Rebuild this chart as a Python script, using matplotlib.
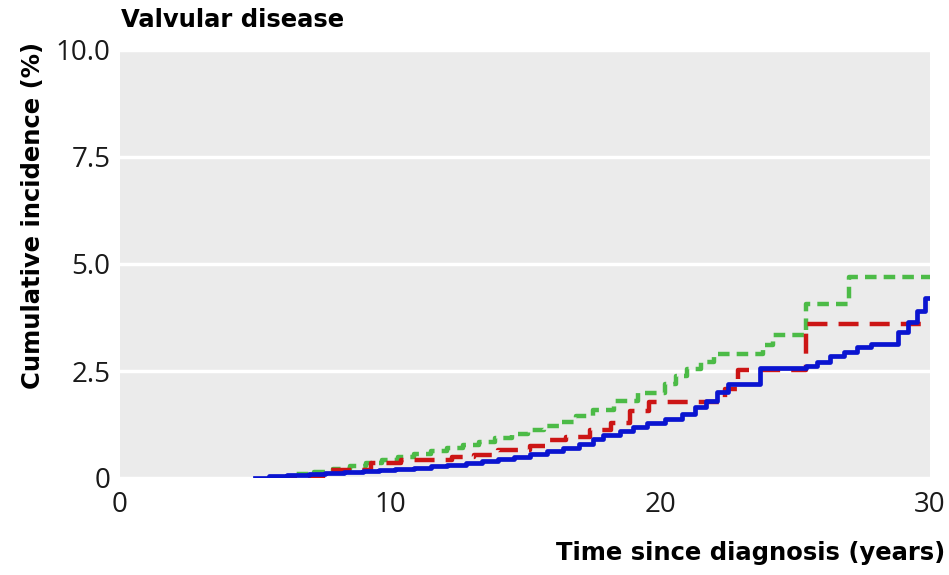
import matplotlib
matplotlib.use("Agg")
import matplotlib.pyplot as plt

# step curves, cumulative incidence (%) by time since diagnosis (years)
blue_t = [5.0, 5.5, 6.2, 7.0, 7.6, 8.3, 9.0, 9.6, 10.2, 10.9, 11.5, 12.1, 12.8, 13.4,
          14.0, 14.6, 15.2, 15.8, 16.4, 17.0, 17.5, 17.9, 18.5, 19.0, 19.5, 20.2,
          20.8, 21.3, 21.7, 22.1, 22.5, 23.7, 25.4, 25.8, 26.3, 26.8, 27.3, 27.8,
          28.8, 29.2, 29.5, 29.8, 30.0]
blue_v = [0.0, 0.05, 0.08, 0.1, 0.12, 0.14, 0.16, 0.18, 0.21, 0.24, 0.27, 0.3, 0.35,
          0.4, 0.45, 0.5, 0.56, 0.62, 0.7, 0.8, 0.9, 1.0, 1.1, 1.2, 1.28, 1.38,
          1.5, 1.65, 1.79, 2.0, 2.2, 2.56, 2.62, 2.72, 2.84, 2.95, 3.05, 3.14,
          3.4, 3.65, 3.9, 4.2, 4.2]

green_t = [6.0, 6.5, 7.2, 7.9, 8.5, 9.1, 9.7, 10.3, 10.9, 11.5, 12.1, 12.7, 13.3,
           13.9, 14.5, 15.1, 15.7, 16.3, 16.9, 17.5, 18.3, 19.2, 20.2, 20.6, 21.0,
           21.5, 22.0, 23.8, 24.2, 25.4, 27.0, 30.0]
green_v = [0.0, 0.1, 0.15, 0.22, 0.28, 0.35, 0.42, 0.48, 0.55, 0.62, 0.7, 0.78, 0.85,
           0.93, 1.02, 1.12, 1.22, 1.32, 1.45, 1.58, 1.79, 1.98, 2.2, 2.38, 2.55,
           2.7, 2.9, 3.1, 3.33, 4.07, 4.7, 4.7]

red_t = [5.8, 7.5, 9.3, 10.4, 12.3, 13.1, 14.0, 15.2, 15.9, 16.5, 17.4, 18.2, 18.9,
         19.6, 22.4, 22.9, 25.4, 30.0]
red_v = [0.0, 0.19, 0.35, 0.42, 0.49, 0.53, 0.65, 0.74, 0.88, 0.95, 1.12, 1.28, 1.56,
         1.77, 2.09, 2.53, 3.6, 3.6]

y_ticks = [0, 2.5, 5.0, 7.5, 10.0]
y_labels = ["0", "2.5", "5.0", "7.5", "10.0"]
x_ticks = [0, 10, 20, 30]

fig = plt.figure(figsize=(9.49, 5.75), dpi=100)
ax = fig.add_axes([120 / 949, 97 / 575, 810 / 949, 428 / 575])
ax.set_facecolor("#ebebeb")
for s in ax.spines.values():
    s.set_visible(False)

ax.step(green_t, green_v, where="post", color="#4cbb47", lw=3.2, dashes=(2.6, 1.6), zorder=3)
ax.step(red_t, red_v, where="post", color="#cc1515", lw=3.2, dashes=(4.5, 2.5), zorder=3)
ax.step(blue_t, blue_v, where="post", color="#0a14d0", lw=3.4, zorder=4)

ax.set_xlim(0, 30)
ax.set_ylim(0, 10)
ax.set_yticks(y_ticks)
ax.set_yticklabels(y_labels)
ax.set_xticks(x_ticks)
ax.tick_params(length=0, labelsize=20, colors="#1a1a1a")
ax.tick_params(axis="y", pad=7)
ax.tick_params(axis="x", pad=9)
for lab in ax.get_yticklabels() + ax.get_xticklabels():
    lab.set_fontfamily("Open Sans")
ax.grid(axis="y", color="white", lw=2.5)
ax.set_axisbelow(True)

fig.text(121 / 949, 1 - 20 / 575, "Valvular disease", fontsize=17.5, fontweight="bold",
         ha="left", va="center")
fig.text(945 / 949, 1 - 553 / 575, "Time since diagnosis (years)", fontsize=17.5,
         fontweight="bold", ha="right", va="center")
fig.text(33 / 949, 1 - 215 / 575, "Cumulative incidence (%)", fontsize=17.5,
         fontweight="bold", rotation=90, ha="center", va="center")

fig.savefig("out.png", dpi=100)
